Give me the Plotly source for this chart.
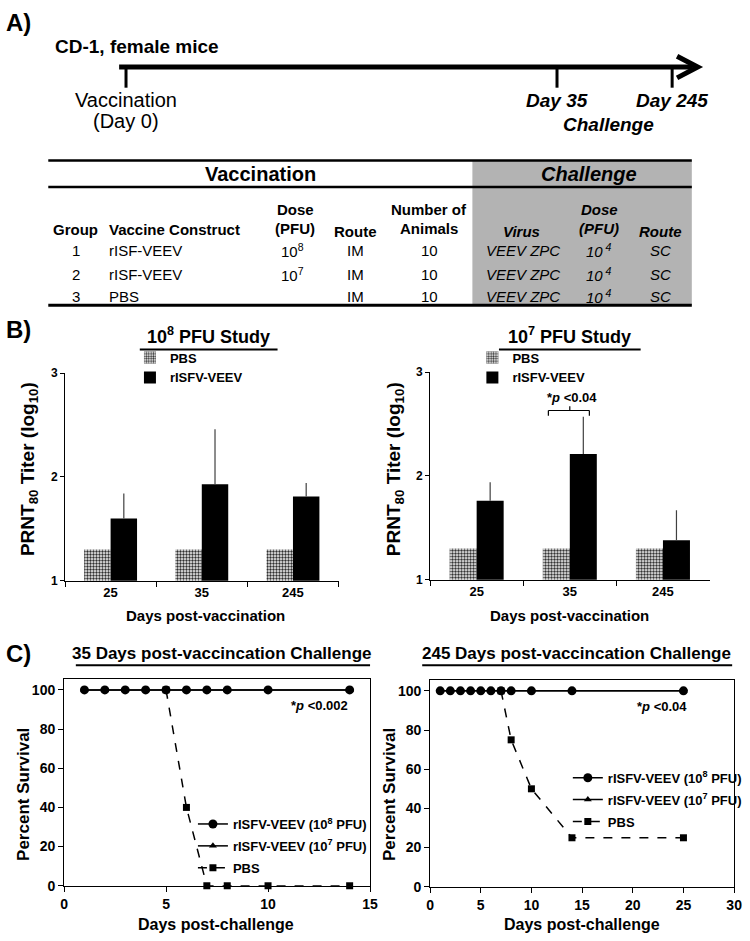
import plotly.graph_objects as go

# Figure: rISFV-VEEV vaccination study, panels A (design), B (PRNT80 titers), C (survival)

W, H = 750, 941


def px(x):
    return x / W


def py(y):
    return 1 - y / H


# ---- Panel A data ----
timeline_top = ["Vaccination", "<i>Day 35</i>", "<i>Day 245</i>"]
timeline_x = [124, 562, 679]  # schematic positions (not to scale)

groups = ["1", "2", "3"]
constructs = ["rISF-VEEV", "rISF-VEEV", "PBS"]
vacc_dose = ["10<sup>8</sup>", "10<sup>7</sup>", ""]
vacc_route = ["IM", "IM", "IM"]
n_animals = ["10", "10", "10"]
ch_virus = ["VEEV ZPC", "VEEV ZPC", "VEEV ZPC"]
ch_dose = ["10<sup> 4</sup>", "10<sup> 4</sup>", "10<sup> 4</sup>"]
ch_route = ["SC", "SC", "SC"]

# ---- Panel B data (PRNT80 titer, log10) ----
days_vacc = ["25", "35", "245"]
pbs_titer_e8 = [1.3, 1.3, 1.3]
vac_titer_e8 = [1.60, 1.93, 1.81]
vac_err_e8 = [0.24, 0.53, 0.13]
pbs_titer_e7 = [1.3, 1.3, 1.3]
vac_titer_e7 = [1.76, 2.21, 1.38]
vac_err_e7 = [0.18, 0.36, 0.29]

# ---- Panel C data (percent survival) ----
ch35_days = [1, 2, 3, 4, 5, 6, 7, 8, 10, 14]
ch35_vac_e8 = [100, 100, 100, 100, 100, 100, 100, 100, 100, 100]
ch35_vac_e7 = [100, 100, 100, 100, 100, 100, 100, 100, 100, 100]
ch35_pbs_days = [5, 6, 7, 8, 10, 14]
ch35_pbs = [100, 40, 0, 0, 0, 0]

ch245_days = [1, 2, 3, 4, 5, 6, 7, 8, 10, 14, 25]
ch245_vac_e8 = [100, 100, 100, 100, 100, 100, 100, 100, 100, 100, 100]
ch245_vac_e7 = [100, 100, 100, 100, 100, 100, 100, 100, 100, 100, 100]
ch245_pbs_days = [7, 8, 10, 14, 25]
ch245_pbs = [100, 75, 50, 25, 25]

FONT = "Liberation Sans, Arial, sans-serif"

fig = go.Figure()

# ---- bars ----
pbs_marker = dict(color="white", line=dict(width=0),
                  pattern=dict(shape=".", size=3, solidity=0.5, fgcolor="#2a2a2a",
                               bgcolor="white", fillmode="replace"))
err_style = dict(type="data", symmetric=False, color="#404040", thickness=1.2, width=0)

fig.add_trace(go.Bar(x=days_vacc, y=pbs_titer_e8, name="PBS", marker=pbs_marker,
                     xaxis="x", yaxis="y", legend="legend"))
fig.add_trace(go.Bar(x=days_vacc, y=vac_titer_e8, name="rISFV-VEEV",
                     marker=dict(color="black", line=dict(width=0)),
                     error_y=dict(array=vac_err_e8, arrayminus=[0, 0, 0], **err_style),
                     xaxis="x", yaxis="y", legend="legend"))
fig.add_trace(go.Bar(x=days_vacc, y=pbs_titer_e7, name="PBS", marker=pbs_marker,
                     xaxis="x2", yaxis="y2", legend="legend2"))
fig.add_trace(go.Bar(x=days_vacc, y=vac_titer_e7, name="rISFV-VEEV",
                     marker=dict(color="black", line=dict(width=0)),
                     error_y=dict(array=vac_err_e7, arrayminus=[0, 0, 0], **err_style),
                     xaxis="x2", yaxis="y2", legend="legend2"))

# ---- survival curves ----
def survival(days_list, vals, name, symbol, size, dash, ax, leg, rank):
    return go.Scatter(x=days_list, y=vals, name=name, mode="lines+markers",
                      line=dict(color="black", width=1.5, dash=dash),
                      marker=dict(symbol=symbol, size=size, color="black"),
                      cliponaxis=False, xaxis="x" + ax, yaxis="y" + ax,
                      legend=leg, legendrank=rank, legendgroup=leg + str(rank))


name8 = "rISFV-VEEV (10<sup>8</sup> PFU)"
name7 = "rISFV-VEEV (10<sup>7</sup> PFU)"
fig.add_trace(survival(ch35_pbs_days, ch35_pbs, "PBS", "square", 7, "dash", "3", "legend3", 3))
fig.add_trace(survival(ch35_days, ch35_vac_e7, name7, "triangle-up", 7, "solid", "3", "legend3", 2))
fig.add_trace(survival(ch35_days, ch35_vac_e8, name8, "circle", 9, "solid", "3", "legend3", 1))
fig.add_trace(survival(ch245_pbs_days, ch245_pbs, "PBS", "square", 7, "dash", "4", "legend4", 3))
fig.add_trace(survival(ch245_days, ch245_vac_e7, name7, "triangle-up", 7, "solid", "4", "legend4", 2))
fig.add_trace(survival(ch245_days, ch245_vac_e8, name8, "circle", 9, "solid", "4", "legend4", 1))

# ---- axes ----
bar_x = dict(type="category", showline=True, linecolor="black", linewidth=1, ticks="outside",
             tickson="boundaries", ticklen=5, tickcolor="black", showgrid=False, zeroline=False,
             tickfont=dict(size=13, weight="bold"))
bar_y = dict(range=[1, 3], tickvals=[1, 2, 3], showline=True, linecolor="black", linewidth=1,
             ticks="outside", ticklen=4, tickcolor="black", showgrid=False, zeroline=False,
             tickfont=dict(size=12, weight="bold"))
surv_x = dict(dtick=5, showline=True, mirror=True, linecolor="black", linewidth=1,
              ticks="outside", ticklen=5, tickcolor="black", showgrid=False, zeroline=False,
              tickfont=dict(size=14, weight="bold"))
surv_y = dict(range=[0, 105.5], tickvals=[0, 20, 40, 60, 80, 100], showline=True, mirror=True,
              linecolor="black", linewidth=1, ticks="outside", ticklen=5, tickcolor="black",
              showgrid=False, zeroline=False, tickfont=dict(size=14, weight="bold"))

legend_b = dict(bgcolor="rgba(0,0,0,0)", font=dict(size=13, weight="bold"), xanchor="left",
                yanchor="top", tracegroupgap=0, itemwidth=30)
legend_c = dict(bgcolor="rgba(0,0,0,0)", font=dict(size=13, weight="bold"), xanchor="left",
                yanchor="top", tracegroupgap=2, itemwidth=30)

fig.update_layout(
    width=W, height=H, autosize=False,
    margin=dict(l=0, r=0, t=0, b=0),
    paper_bgcolor="white", plot_bgcolor="white",
    font=dict(family=FONT, color="black"),
    barmode="group", bargap=0.42, bargroupgap=0,
    xaxis=dict(domain=[px(62), px(340)], anchor="y", **bar_x),
    yaxis=dict(domain=[py(583), py(372)], anchor="x", **bar_y),
    xaxis2=dict(domain=[px(433), px(717)], anchor="y2", **bar_x),
    yaxis2=dict(domain=[py(582), py(371)], anchor="x2", **bar_y),
    xaxis3=dict(domain=[px(61), px(372)], anchor="y3", range=[0, 15], **surv_x),
    yaxis3=dict(domain=[py(893), py(683)], anchor="x3", **surv_y),
    xaxis4=dict(domain=[px(433), px(742)], anchor="y4", range=[0, 30], **surv_x),
    yaxis4=dict(domain=[py(894), py(684)], anchor="x4", **surv_y),
    legend=dict(x=px(128), y=py(341), **legend_b),
    legend2=dict(x=px(476), y=py(341), **legend_b),
    legend3=dict(x=px(192), y=py(815), **legend_c),
    legend4=dict(x=px(573), y=py(768), **legend_c),
)


# ---- helpers for the schematic / labels ----
def text(x, y, s, size, bold=True, italic=False, xanchor="center", angle=0):
    fig.add_annotation(x=px(x), y=py(y), xref="paper", yref="paper", text=s, showarrow=False,
                       xanchor=xanchor, yanchor="middle", textangle=angle,
                       font=dict(size=size, weight="bold" if bold else "normal",
                                 style="italic" if italic else "normal"))


def hline(x0, x1, y, w):
    fig.add_shape(type="line", xref="paper", yref="paper", x0=px(x0), x1=px(x1),
                  y0=py(y), y1=py(y), line=dict(color="black", width=w))


def vline(x, y0, y1, w):
    fig.add_shape(type="line", xref="paper", yref="paper", x0=px(x), x1=px(x),
                  y0=py(y0), y1=py(y1), line=dict(color="black", width=w))


# Panel letters
text(0, 16, "A)", 24, xanchor="left")
text(0, 328, "B)", 24, xanchor="left")
text(0, 657, "C)", 24, xanchor="left")

# Panel A timeline
text(50, 40, "CD-1, female mice", 19, xanchor="left")
hline(117, 700, 61, 5)
fig.add_shape(type="path", xref="paper", yref="paper",
              path=f"M {px(684)},{py(50)} L {px(705)},{py(61)} L {px(684)},{py(72)}",
              line=dict(color="black", width=5))
for tx in timeline_x:
    vline(tx, 61, 82, 3)
text(timeline_x[0], 95, timeline_top[0], 20, bold=False)
text(timeline_x[0], 116, "(Day 0)", 20, bold=False)
text(timeline_x[1], 95, timeline_top[1], 19, italic=True)
text(timeline_x[2], 95, timeline_top[2], 19, italic=True)
text(614, 119, "<i>Challenge</i>", 19, italic=True)

# Panel A table
fig.add_shape(type="rect", xref="paper", yref="paper", x0=px(476), x1=px(699),
              y0=py(156), y1=py(303), fillcolor="#b3b3b3", line=dict(width=0), layer="below")
hline(45, 699, 156, 2.5)
hline(45, 699, 183, 2.5)
hline(45, 699, 303, 3)
text(261, 170, "Vaccination", 20)
text(595, 170, "<i>Challenge</i>", 20, italic=True)

text(73, 226, "Group", 15)
text(105, 226, "Vaccine Construct", 15, xanchor="left")
text(296, 206, "Dose", 15)
text(296, 225, "(PFU)", 15)
text(357, 228, "Route", 15)
text(432, 206, "Number of", 15)
text(432, 225, "Animals", 15)
text(526, 228, "<i>Virus</i>", 15, italic=True)
text(605, 206, "<i>Dose</i>", 15, italic=True)
text(605, 225, "<i>(PFU)</i>", 15, italic=True)
text(667, 228, "<i>Route</i>", 15, italic=True)

row_y = [247, 272, 294]
for i, ry in enumerate(row_y):
    text(73, ry, groups[i], 15, bold=False)
    text(105, ry, constructs[i], 15, bold=False, xanchor="left")
    text(293, ry, vacc_dose[i], 15, bold=False)
    text(357, ry, vacc_route[i], 15, bold=False)
    text(432, ry, n_animals[i], 15, bold=False)
    text(527, ry, "<i>" + ch_virus[i] + "</i>", 15, bold=False, italic=True)
    text(605, ry, "<i>" + ch_dose[i] + "</i>", 15, bold=False, italic=True)
    text(667, ry, "<i>" + ch_route[i] + "</i>", 15, bold=False, italic=True)

# Panel B titles / axis labels
text(208, 334, "10<sup>8</sup> PFU Study", 18)
hline(138, 278, 348, 2)
text(575, 334, "10<sup>7</sup> PFU Study", 18)
hline(503, 647, 348, 2)
ytitle_b = "PRNT<sub>80</sub> Titer (log<sub>10</sub>)"
text(25, 470, ytitle_b, 19, angle=-90)
text(397, 470, ytitle_b, 19, angle=-90)
text(205, 618, "Days post-vaccination", 15)
text(575, 618, "Days post-vaccination", 15)

# significance bracket over day 35 (10^7 study)
for x0, x1, y0, y1 in [(0.77, 1.21, 2.63, 2.63), (0.77, 0.77, 2.63, 2.58),
                       (1.21, 1.21, 2.63, 2.58), (1.0, 1.0, 2.63, 2.67)]:
    fig.add_shape(type="line", xref="x2", yref="y2", x0=x0, x1=x1, y0=y0, y1=y1,
                  line=dict(color="black", width=1.2))
fig.add_annotation(x=1.02, y=2.76, xref="x2", yref="y2", text="*<i>p</i> <0.04",
                   showarrow=False, font=dict(size=13, weight="bold"))

# Panel C titles / axis labels
text(222, 657, "35 Days post-vaccincation Challenge", 17)
hline(73, 372, 669, 2)
text(582, 657, "245 Days post-vaccincation Challenge", 17)
hline(425, 740, 669, 2)
text(20, 800, "Percent Survival", 17, angle=-90)
text(392, 800, "Percent Survival", 17, angle=-90)
text(215, 932, "Days post-challenge", 16)
text(587, 932, "Days post-challenge", 16)
fig.add_annotation(x=12.5, y=92, xref="x3", yref="y3", text="*<i>p</i> <0.002",
                   showarrow=False, font=dict(size=13, weight="bold"))
fig.add_annotation(x=22.9, y=92, xref="x4", yref="y4", text="*<i>p</i> <0.04",
                   showarrow=False, font=dict(size=13, weight="bold"))

# the page body has a default 8px margin; drop it so the 750x941 figure fills the window
fig.write_html("out.html", config={"displayModeBar": False},
               post_script="document.body.style.margin='0';")
